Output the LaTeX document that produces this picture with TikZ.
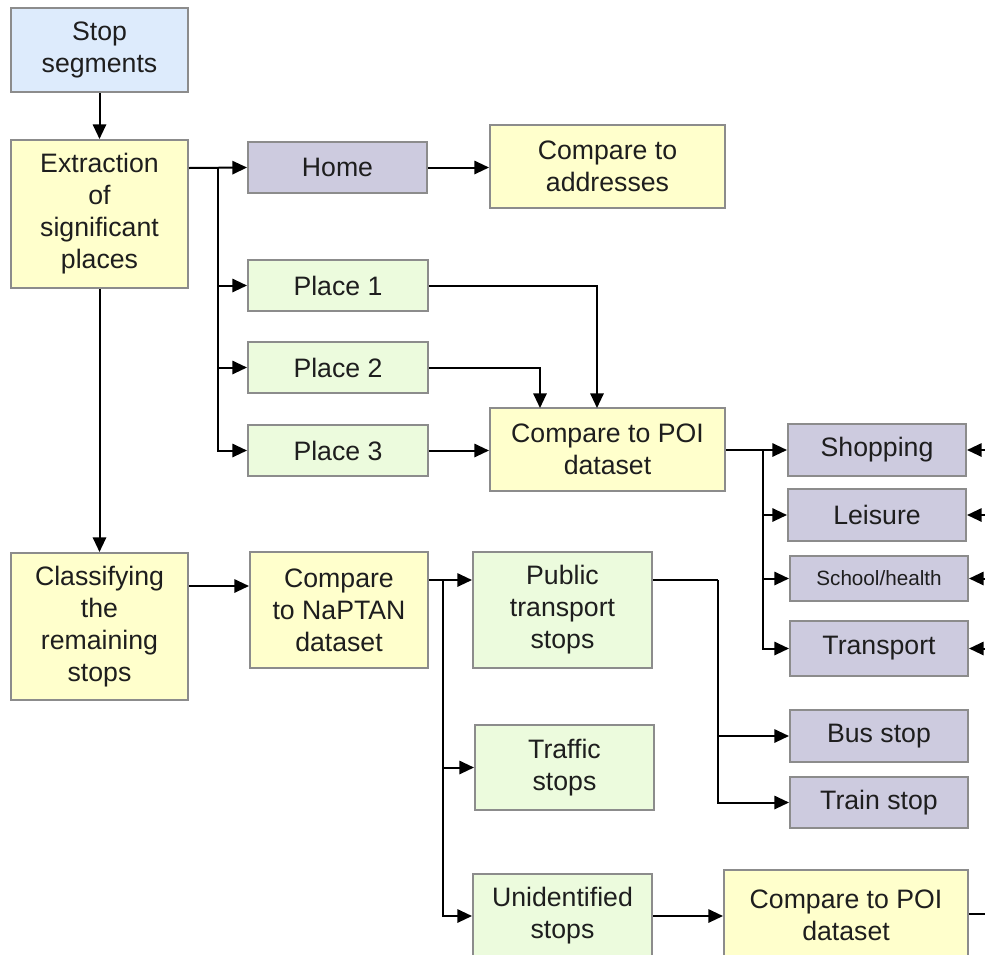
\documentclass[tikz,border=0pt]{standalone}
\usepackage{fontspec}
\setmainfont{Liberation Sans}
\usetikzlibrary{arrows.meta,calc}
\definecolor{cblue}{HTML}{DDEBFC}
\definecolor{cyellow}{HTML}{FFFFCC}
\definecolor{cgreen}{HTML}{ECFBDD}
\definecolor{clav}{HTML}{CDCBDF}
\definecolor{cborder}{HTML}{8C8C8C}
\definecolor{ctext}{HTML}{1E1E1E}
\tikzset{
  box/.style={draw=cborder, line width=1.5pt, align=center, inner sep=0pt,
    text=ctext, font=\fontsize{20pt}{24pt}\selectfont},
  bw/.style={minimum width=#1*0.75pt},
  bh/.style={minimum height=#1*0.75pt},
  bluebox/.style={box, fill=cblue},
  yelbox/.style={box, fill=cyellow},
  grnbox/.style={box, fill=cgreen},
  lavbox/.style={box, fill=clav},
  conn/.style={line width=1.5pt, draw=black},
  arr/.style={conn, -{Triangle[length=11pt,width=10pt]}},
}
\begin{document}
\begin{tikzpicture}[x=0.75pt,y=-0.75pt]
\useasboundingbox (0,0) rectangle (985,954);
\clip (0,0) rectangle (985,954);
% nodes
\node[bluebox, bw=177, bh=84] (stop) at (99.5,50) {Stop\\segments};
\node[yelbox, bw=177, bh=148] (extr) at (99.5,214) {Extraction\\of\\significant\\places};
\node[lavbox, bw=179, bh=51] (home) at (337.5,167.5) {Home};
\node[yelbox, bw=235, bh=83] (addr) at (607.5,166.5) {Compare to\\addresses};
\node[grnbox, bw=180, bh=51] (p1) at (338,285.5) {Place 1};
\node[grnbox, bw=180, bh=51] (p2) at (338,367.5) {Place 2};
\node[grnbox, bw=180, bh=51] (p3) at (338,450.5) {Place 3};
\node[yelbox, bw=235, bh=83] (poi) at (607.5,449.5) {Compare to POI\\dataset};
\node[lavbox, bw=178, bh=52] (shop) at (877,450) {Shopping};
\node[lavbox, bw=178, bh=52] (leis) at (877,515) {Leisure};
\node[lavbox, bw=178, bh=45, font=\fontsize{15.5pt}{18pt}\selectfont] (school) at (879,578.5) {School/health};
\node[lavbox, bw=178, bh=55] (trans) at (879,648.5) {Transport};
\node[yelbox, bw=177, bh=147] (class) at (99.5,626.5) {Classifying\\the\\remaining\\stops};
\node[yelbox, bw=178, bh=116] (naptan) at (339,610) {Compare\\to NaPTAN\\dataset};
\node[grnbox, bw=179, bh=116] (pub) at (562.5,610) {Public\\transport\\stops};
\node[grnbox, bw=179, bh=85] (traffic) at (564.5,767.5) {Traffic\\stops};
\node[grnbox, bw=179, bh=84] (unid) at (562.5,916) {Unidentified\\stops};
\node[lavbox, bw=178, bh=52] (bus) at (879,736) {Bus stop};
\node[lavbox, bw=178, bh=51] (train) at (879,802.5) {Train stop};
\node[yelbox, bw=244, bh=90] (bpoi) at (846,915) {Compare to POI\\dataset};
% coordinates
\coordinate (j1) at (218,168);
\coordinate (t1) at (597,408);
\coordinate (t2) at (540,408);
\coordinate (j3) at (763,450);
\coordinate (e1) at (985,450);
\coordinate (e2) at (985,515);
\coordinate (e3) at (985,578.5);
\coordinate (e4) at (985,648.5);
\coordinate (e5) at (985,914);
\coordinate (c586) at (0,586);
\coordinate (j4) at (443,580);
\coordinate (j5) at (718,580);
% connectors
\draw[arr] (stop.south) -- (extr.north);
\draw[arr] (extr.east |- j1) -- (home.west);
\draw[arr] (j1) |- (p1.west);
\draw[arr] (j1) |- (p2.west);
\draw[arr] (j1) |- (p3.west);
\draw[arr] (home.east) -- (addr.west |- home.east);
\draw[arr] (extr.south) -- (class.north);
\draw[arr] (p1.east) -| (t1);
\draw[arr] (p2.east) -| (t2);
\draw[arr] (p3.east) -- (poi.west |- p3.east);
\draw[conn] (poi.east |- j3) -- (j3);
\draw[arr] (j3) -- (shop.west);
\draw[arr] (j3) |- (leis.west);
\draw[arr] (j3) |- (school.west);
\draw[arr] (j3) |- (trans.west);
\draw[arr] (e1) -- (shop.east);
\draw[arr] (e2) -- (leis.east);
\draw[arr] (e3) -- (school.east);
\draw[arr] (e4) -- (trans.east);
\draw[arr] (class.east |- c586) -- (naptan.west |- c586);
\draw[conn] (naptan.east |- j4) -- (j4);
\draw[arr] (j4) -- (pub.west |- j4);
\draw[arr] (j4) |- (traffic.west);
\draw[arr] (j4) |- (unid.west);
\draw[conn] (pub.east |- j5) -- (j5);
\draw[arr] (j5) |- (bus.west);
\draw[arr] (j5) |- (train.west);
\draw[arr] (unid.east) -- (bpoi.west |- unid.east);
\draw[conn] (bpoi.east |- e5) -- (e5);
\end{tikzpicture}
\end{document}
